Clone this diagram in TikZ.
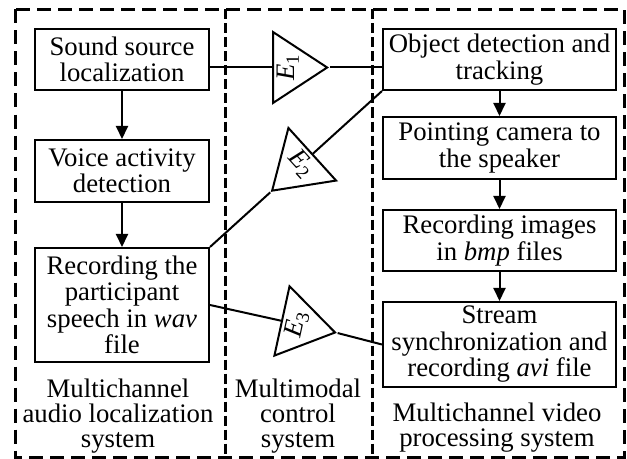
\documentclass[tikz,border=0pt]{standalone}
\usepackage{fontspec}
\usepackage{graphicx}
\setmainfont{Liberation Serif}
\usetikzlibrary{arrows.meta, positioning, shapes.geometric}

\begin{document}
\begin{tikzpicture}[x=0.4pt,y=-0.4pt,->,>={Triangle[length=5.2pt,width=4.8pt]},
    line width=0.8pt,font=\fontsize{10.7}{10.6}\selectfont,
    block/.style={draw,align=center,inner sep=1pt},
    lblock/.style={block,minimum width=69.6pt},
    rblock/.style={block,minimum width=93.2pt},
    amp/.style={draw,isosceles triangle,isosceles triangle stretches,
                minimum width=28.4pt,minimum height=21.6pt,inner sep=0pt,anchor=lower side},
    frame/.style={-,line width=1.2pt,dash pattern=on 5.6pt off 2.8pt},
    divider/.style={-,line width=1.2pt,dash pattern=on 4pt off 1.6pt},
    syslbl/.style={align=center,font=\fontsize{10.7}{10}\selectfont}]

   \useasboundingbox (0,0) rectangle (627,459);

   % Frame
      \draw[frame]   (15,9.5) rectangle (624.5,457.5);
      \draw[divider] (225,9.5) -- (225,457.5);
      \draw[divider] (372,9.5) -- (372,457.5);

   % Nodes
      \node[lblock,minimum height=24.4pt] (snd)  at (122,59.5)  {Sound source\\localization};
      \node[lblock,minimum height=24.8pt] (vad)  at (122,171)   {Voice activity\\detection};
      \node[lblock,minimum height=45.6pt] (rec)  at (122,305)   {Recording the\\participant\\speech in \textit{wav}\\file};
      \node[rblock,minimum height=24.4pt] (obj)  at (499.5,59.5) {Object detection and\\tracking};
      \node[rblock,minimum height=24.8pt] (cam)  at (499.5,148)  {Pointing camera to\\the speaker};
      \node[rblock,minimum height=24.4pt] (img)  at (499.5,240.5) {Recording images\\in \textit{bmp} files};
      \node[rblock,minimum height=34pt]   (sync) at (499.5,344.5) {Stream\\synchronization and\\recording \textit{avi} file};

   % Amplifiers
      \node[amp]              (e1) at (272,67.5)  {\rotatebox{90}{\textit{E}\textsubscript{1}}};
      \node[amp,rotate=222.2] (e2) at (313,153.6) {\rotatebox{90}{\textit{E}\textsubscript{2}}};
      \node[amp,rotate=-12.3] (e3) at (281,320.7) {\rotatebox{90}{\textit{E}\textsubscript{3}}};

   % System labels
      \node[syslbl] (audlbl) at (118,416.5) {Multichannel\\audio localization\\system};
      \node[syslbl] (ctllbl) at (298,416.5) {Multimodal\\control\\system};
      \node[syslbl] (vidlbl) at (497,428)   {Multichannel video\\processing system};

   % Paths
      \path (snd) edge (vad)
            (vad) edge (rec);
      \path (obj) edge (cam)
            (cam) edge (img)
            (img) edge (sync);
      \draw[-] (snd.east |- e1.lower side) -- (e1.lower side);
      \draw[-] (e1.apex) -- (obj.west |- e1.apex);
      \draw[-] (rec.north east) -- (e2.apex);
      \draw[-] (e2.lower side) -- (obj.south west);
      \draw[-] (rec.east) -- (e3.lower side);
      \draw[-] (e3.apex) -- (sync.west);
   \end{tikzpicture}
\end{document}
